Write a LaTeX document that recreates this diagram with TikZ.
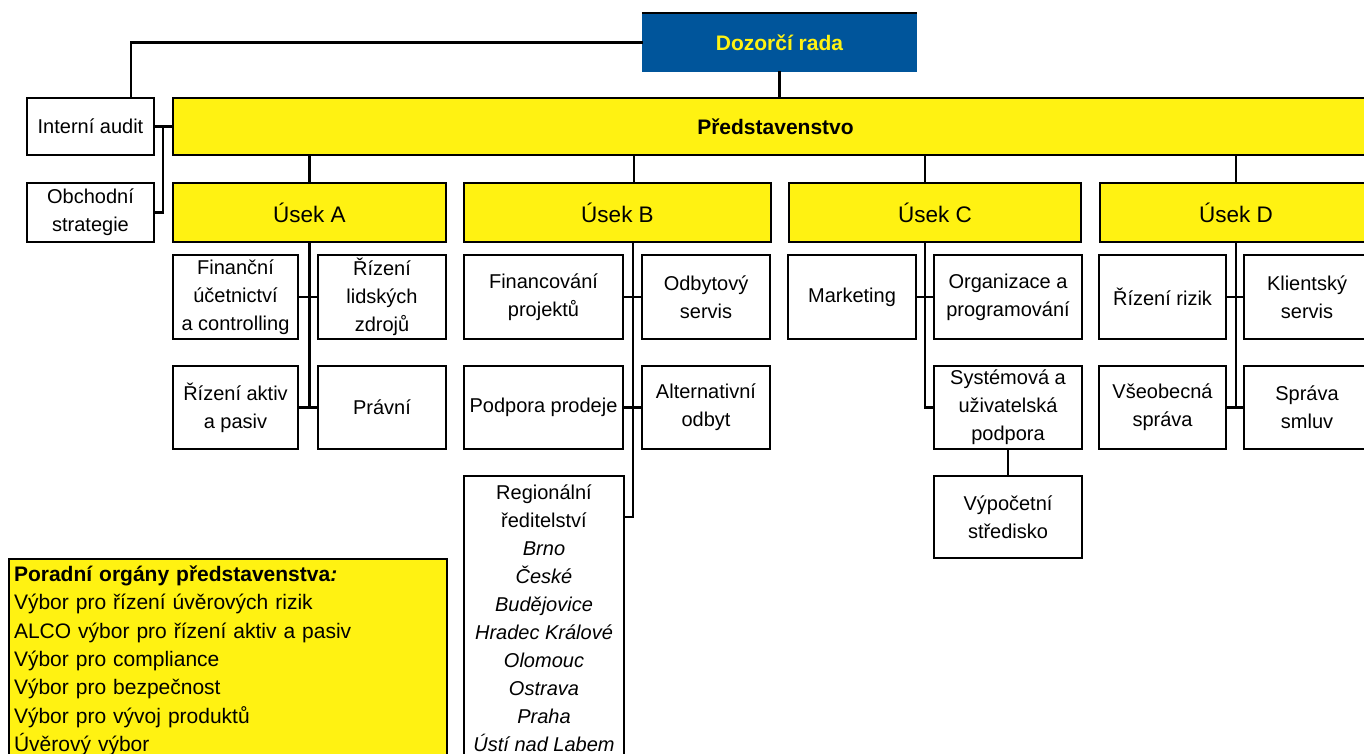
\documentclass[tikz,border=0pt]{standalone}
\usepackage{fontspec}
\setmainfont{Liberation Sans}
\definecolor{ylw}{RGB}{255,242,18}
\definecolor{blu}{RGB}{0,85,155}
\begin{document}
\begin{tikzpicture}[x=1pt,y=-1pt,
  box/.style={draw=black, line width=2pt, fill=white, inner sep=0pt, align=center, font=\fontsize{20}{28}\selectfont},
  ybox/.style={box, fill=ylw, font=\fontsize{22.5}{26}\selectfont},
  conn/.style={line width=2.7pt, line cap=rect},
]
\useasboundingbox (0,0) rectangle (1364,754);
\clip (0,0) rectangle (1364,754);

% top
\node[fill=blu, minimum width=275pt, minimum height=59pt, inner sep=0pt, text=ylw,
      font=\bfseries\fontsize{21}{25}\selectfont] (doz) at (779.5,42.5) {Dozorčí rada};
\draw[line width=2.2pt] (doz.north west) -- (doz.north east);

\node[ybox, minimum width=1205pt, minimum height=57pt, font=\bfseries\fontsize{21}{26}\selectfont] (pred) at (775.5,126.5) {Představenstvo};
\node[box, minimum width=127pt, minimum height=57pt] (ia) at (90.5,126.5) {Interní audit};
\node[box, minimum width=127pt, minimum height=59pt] (os) at (90.5,212.5) {Obchodní\\strategie};

% divisions
\node[ybox, minimum width=273pt, minimum height=59pt] (uA) at (309.5,212.5) {Úsek A};
\node[ybox, minimum width=307pt, minimum height=59pt] (uB) at (617.5,212.5) {Úsek B};
\node[ybox, minimum width=292pt, minimum height=59pt] (uC) at (935,212.5) {Úsek C};
\node[ybox, minimum width=272pt, minimum height=59pt] (uD) at (1236,212.5) {Úsek D};

% A
\node[box, minimum width=125pt, minimum height=84pt] (fin) at (235.5,297) {Finanční\\účetnictví\\a controlling};
\node[box, minimum width=128pt, minimum height=84pt] (rlz) at (382,297) {Řízení\\lidských\\zdrojů};
\node[box, minimum width=125pt, minimum height=83pt] (rap) at (235.5,407.5) {Řízení aktiv\\a pasiv};
\node[box, minimum width=128pt, minimum height=83pt] (prav) at (382,407.5) {Právní};

% B
\node[box, minimum width=159pt, minimum height=84pt] (finpr) at (543.5,297) {Financování\\projektů};
\node[box, minimum width=128pt, minimum height=84pt] (odb) at (706,297) {Odbytový\\servis};
\node[box, minimum width=159pt, minimum height=83pt] (podp) at (543.5,407.5) {Podpora prodeje};
\node[box, minimum width=128pt, minimum height=83pt] (alt) at (706,407.5) {Alternativní\\odbyt};
\node[box, minimum width=160pt, anchor=north, inner ysep=9pt] (reg) at (544,475)
  {Regionální\\ředitelství\\\textit{Brno}\\\textit{České}\\\textit{Budějovice}\\\textit{Hradec Králové}\\\textit{Olomouc}\\\textit{Ostrava}\\\textit{Praha}\\\textit{Ústí nad Labem}};

% C
\node[box, minimum width=128pt, minimum height=84pt] (mkt) at (852,297) {Marketing};
\node[box, minimum width=148pt, minimum height=84pt] (org) at (1008,297) {Organizace a\\programování};
\node[box, minimum width=148pt, minimum height=83pt] (sys) at (1008,407.5) {Systémová a\\uživatelská\\podpora};
\node[box, minimum width=148pt, minimum height=82pt] (vyp) at (1008,517) {Výpočetní\\středisko};

% D
\node[box, minimum width=127pt, minimum height=84pt] (rr) at (1162.5,297) {Řízení rizik};
\node[box, minimum width=126pt, minimum height=84pt] (kli) at (1307,297) {Klientský\\servis};
\node[box, minimum width=127pt, minimum height=83pt] (vs) at (1162.5,407.5) {Všeobecná\\správa};
\node[box, minimum width=126pt, minimum height=83pt] (ss) at (1307,407.5) {Správa\\smluv};

% advisory bodies
\node[box, fill=ylw, anchor=north west, align=left, text width=428pt, inner xsep=5pt, inner ysep=7pt,
      font=\fontsize{21}{28.3}\selectfont] (por) at (8,558)
  {\textbf{Poradní orgány představenstva\textit{:}}\\
   Výbor pro řízení úvěrových rizik\\
   ALCO výbor pro řízení aktiv a pasiv\\
   Výbor pro compliance\\
   Výbor pro bezpečnost\\
   Výbor pro vývoj produktů\\
   Úvěrový výbor};

% connectors
\coordinate (ian) at (131,98);
\draw[conn] (doz.west) -| (ian);
\draw[conn] (doz.south) -- (doz.south |- pred.north);
\draw[conn] (ia.east) -- (pred.west);
\coordinate (j1) at (163,126.5);
\draw[conn] (j1) |- (os.east);

\coordinate (tB) at (634,183);
\coordinate (tC) at (925,183);
\draw[conn] (uA.north) -- (uA.north |- pred.south);
\draw[conn] (tB) -- (tB |- pred.south);
\draw[conn] (tC) -- (tC |- pred.south);
\draw[conn] (uD.north) -- (uD.north |- pred.south);

% A spine
\draw[conn] (uA.south) -- (uA.south |- rap.east);
\draw[conn] (fin.east) -- (rlz.west);
\draw[conn] (rap.east) -- (prav.west);

% B spine
\coordinate (sB) at (633,242);
\coordinate (sBend) at (633,517);
\draw[conn] (sB) -- (sBend);
\draw[conn] (finpr.east) -- (odb.west);
\draw[conn] (podp.east) -- (alt.west);
\draw[conn] (sBend) -- (sBend -| reg.east);

% C spine
\coordinate (sC) at (925,242);
\coordinate (sCend) at (925,407.5);
\draw[conn] (sC) -- (sCend) -- (sys.west);
\draw[conn] (mkt.east) -- (org.west);
\draw[conn] (sys.south) -- (vyp.north);

% D spine
\draw[conn] (uD.south) -- (uD.south |- vs.east);
\draw[conn] (rr.east) -- (kli.west);
\draw[conn] (vs.east) -- (ss.west);
\end{tikzpicture}
\end{document}
